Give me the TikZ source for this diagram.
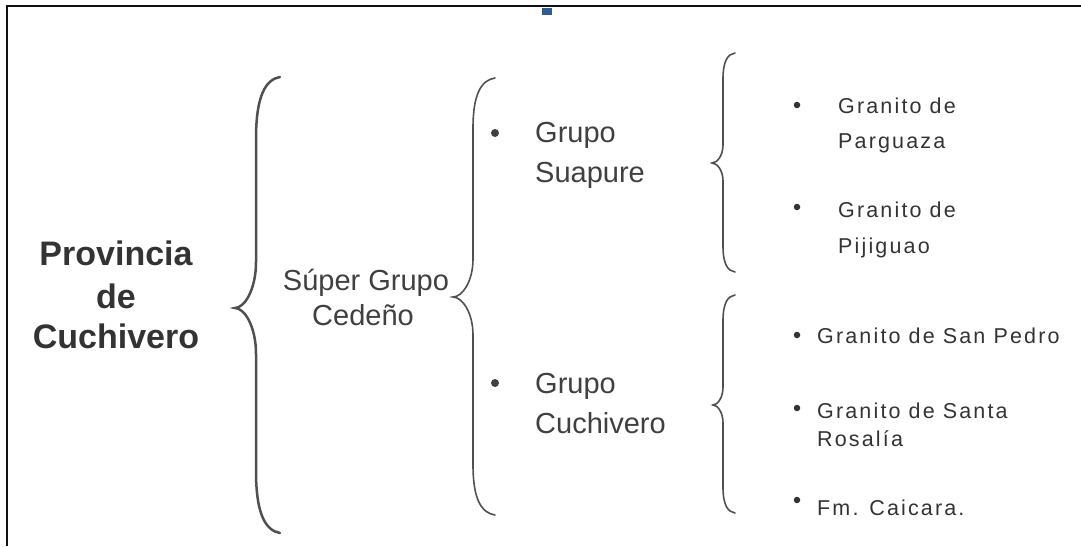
\documentclass[tikz,border=0pt]{standalone}
\usepackage{fontspec}
\setmainfont{Liberation Sans}
\newfontfamily\spacedfont[LetterSpace=10]{Liberation Sans}

\definecolor{txtdark}{HTML}{333333}
\definecolor{txtgray}{HTML}{404040}
\definecolor{bracegray}{HTML}{505050}
\definecolor{framecol}{HTML}{111111}
\definecolor{markblue}{HTML}{2F5C96}

% curly brace: #1 style, #2 tip x, #3 tip y, #4 spine x, #5 end x,
% #6 top y, #7 bottom y, #8 end curl length, #9 tip curl length
\newcommand{\curlybrace}[9]{%
  \draw[#1] (#5,#6)
    .. controls ({#4+0.4*(#5-#4)},{#6+0.04*#8}) and (#4,{#6+0.3*#8}) .. (#4,{#6+#8})
    -- (#4,{#3-#9})
    .. controls (#4,{#3-0.4*#9}) and ({#2+0.45*(#4-#2)},#3) .. (#2,#3)
    .. controls ({#2+0.45*(#4-#2)},#3) and (#4,{#3+0.4*#9}) .. (#4,{#3+#9})
    -- (#4,{#7-#8})
    .. controls (#4,{#7-0.3*#8}) and ({#4+0.4*(#5-#4)},{#7-0.04*#8}) .. (#5,#7);
}

\begin{document}
\begin{tikzpicture}[x=1pt,y=-1pt,
  title/.style={font=\fontsize{34}{40}\selectfont\bfseries, text=txtdark, inner sep=0, anchor=base},
  midtext/.style={font=\fontsize{29}{35}\selectfont, text=txtgray, inner sep=0},
  smalltext/.style={font=\spacedfont\fontsize{21.5}{26}\selectfont, text=txtdark, inner sep=0, anchor=base west},
  bigdot/.style={circle, fill=txtgray, inner sep=0, minimum size=8},
  smalldot/.style={circle, fill=txtdark, inner sep=0, minimum size=6.5},
  bracket/.style={draw=bracegray, line width=1.6, line cap=round},
  mainbracket/.style={bracket, line width=2.5}
]
\useasboundingbox (0,0) rectangle (1081,546);

% frame and marker
\draw[framecol, line width=2.3] (7.2,546) -- (7.2,6.2) -- (1081,6.2);
\fill[markblue] (542,8) rectangle (552,15);

% first level
\node[title] (prov1) at (116,265) {Provincia};
\node[title] (prov2) at (116,308) {de};
\node[title] (prov3) at (116,348) {Cuchivero};

\curlybrace{mainbracket}{235}{308}{256}{280}{77}{533}{62}{46}

% second level
\node[midtext, anchor=base] (sg1) at (366,290) {Súper Grupo};
\node[midtext, anchor=base] (sg2) at (363,325) {Cedeño};

\curlybrace{bracket}{453}{297}{473}{495}{78}{515}{50}{38}

\node[bigdot] (d1) at (495,133) {};
\node[midtext, anchor=base west] (suap1) at (535,142) {Grupo};
\node[midtext, anchor=base west] (suap2) at (535,182) {Suapure};

\node[bigdot] (d2) at (495,383) {};
\node[midtext, anchor=base west] (cuch1) at (535,393) {Grupo};
\node[midtext, anchor=base west] (cuch2) at (535,433) {Cuchivero};

% third level, upper group
\curlybrace{bracket}{712}{163}{723}{735}{53}{272}{26}{18}

\node[smalldot] (p1) at (797,105) {};
\node[smalltext] (parg1) at (838,113) {Granito de};
\node[smalltext] (parg2) at (838,148) {Parguaza};

\node[smalldot] (p2) at (797,207) {};
\node[smalltext] (piji1) at (838,217) {Granito de};
\node[smalltext] (piji2) at (838,253) {Pijiguao};

% third level, lower group
\curlybrace{bracket}{713}{405}{723}{735}{295}{513}{26}{18}

\node[smalldot] (q1) at (797,335) {};
\node[smalltext] (sanp) at (817,343) {Granito de San Pedro};

\node[smalldot] (q2) at (797,408) {};
\node[smalltext] (sros1) at (817,418) {Granito de Santa};
\node[smalltext] (sros2) at (817,446) {Rosalía};

\node[smalldot] (q3) at (797,500) {};
\node[smalltext] (caic) at (817,515) {Fm. Caicara.};
\end{tikzpicture}
\end{document}
